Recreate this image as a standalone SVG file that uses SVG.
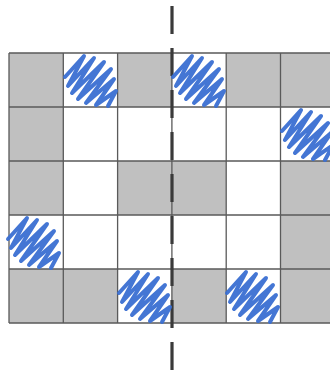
<svg xmlns="http://www.w3.org/2000/svg" width="330" height="371" viewBox="0 0 330 371">
<style>
.g{fill:#c0c0c0}
.ln{stroke:#5a5a5a;stroke-width:1.3;fill:none}
.sc{fill:none;stroke:#3a6fd2;stroke-width:4;stroke-linecap:round;stroke-linejoin:round;opacity:0.95}
.ax{stroke:#3a3a3a;stroke-width:3.2;stroke-dasharray:28 14;fill:none}
</style>
<defs>
<path id="scr" d="M 1 24 L 20 3 L 4 33 L 30 5 L 8 40 L 40 9 L 14 46 L 47 16 L 22 50 L 50 26 L 32 52 L 52 38 L 44 53"/>
</defs>
<rect x="0" y="0" width="330" height="371" fill="#ffffff"/>
<g id="cells">
<rect class="g" x="9" y="53" width="54.3" height="54"/>
<rect class="g" x="117.6" y="53" width="54.3" height="54"/>
<rect class="g" x="226.2" y="53" width="108.6" height="54"/>
<rect class="g" x="9" y="107" width="54.3" height="54"/>
<rect class="g" x="9" y="161" width="54.3" height="54"/>
<rect class="g" x="117.6" y="161" width="108.6" height="54"/>
<rect class="g" x="280.5" y="161" width="54.3" height="54"/>
<rect class="g" x="280.5" y="215" width="54.3" height="54"/>
<rect class="g" x="9" y="269" width="108.6" height="54"/>
<rect class="g" x="171.9" y="269" width="54.3" height="54"/>
<rect class="g" x="280.5" y="269" width="54.3" height="54"/>
</g>
<g id="grid" class="ln">
<path d="M9 53H335M9 107H335M9 161H335M9 215H335M9 269H335M9 323H335"/>
<path d="M9 53V323M63.3 53V323M117.6 53V323M171.9 53V323M226.2 53V323M280.5 53V323"/>
</g>
<g id="connectors">
<line id="axis" class="ax" x1="172" y1="6" x2="172" y2="371"/>
</g>
<g id="scribbles">
<g id="s1"><use href="#scr" class="sc" transform="translate(64,53)"/></g>
<g id="s2"><use href="#scr" class="sc" transform="translate(172,53)"/></g>
<g id="s3"><use href="#scr" class="sc" transform="translate(281,107)"/></g>
<g id="s4"><use href="#scr" class="sc" transform="translate(7,215)"/></g>
<g id="s5"><use href="#scr" class="sc" transform="translate(118,269)"/></g>
<g id="s6"><use href="#scr" class="sc" transform="translate(226,269)"/></g>
</g>
</svg>
